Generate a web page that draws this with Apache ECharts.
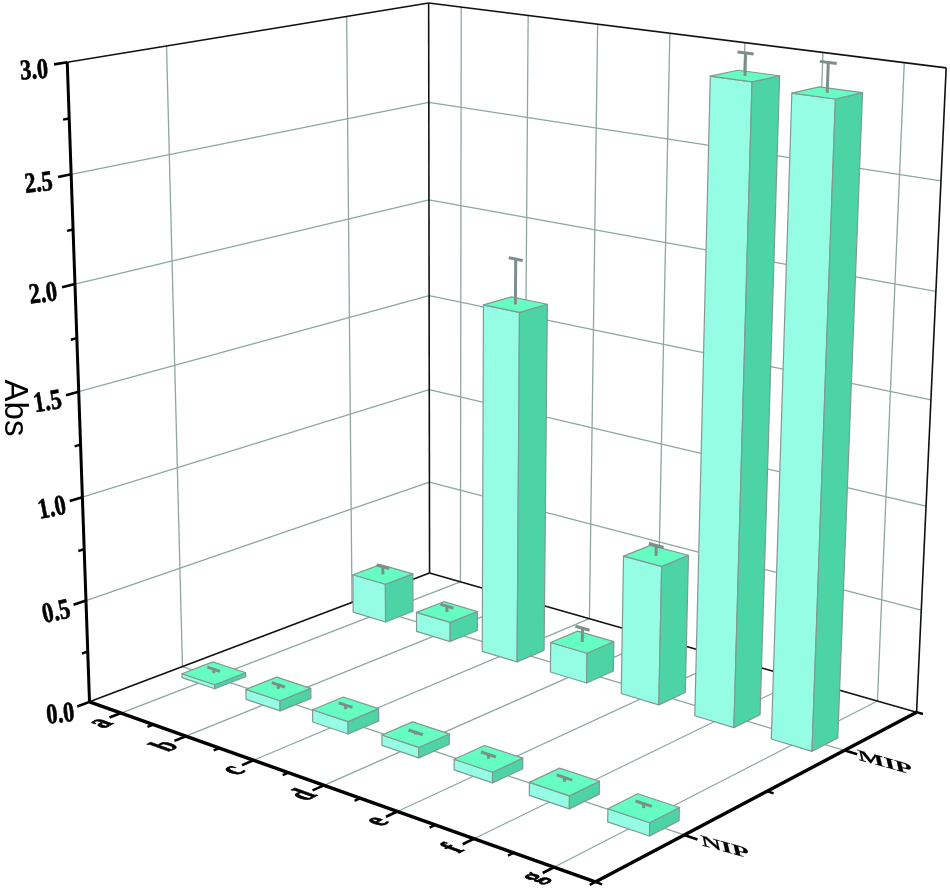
<!DOCTYPE html>
<html><head><meta charset="utf-8">
<script src="https://cdn.jsdelivr.net/npm/echarts@6/dist/echarts.min.js"></script>
<style>html,body{margin:0;background:#fff}#c{width:950px;height:890px}</style></head>
<body><div id="c"></div>
<script>
// ---- data ----
const categories = ['a','b','c','d','e','f','g'];
const rows = ['NIP','MIP'];
const nipValues = [0.02,0.05,0.06,0.05,0.05,0.06,0.06];
const mipValues = [0.20,0.10,1.74,0.15,0.68,2.97,2.945];
const nipErrors = [0.02,0.02,0.02,0.01,0.02,0.02,0.02];
const mipErrors = [0.04,0.03,0.22,0.07,0.05,0.10,0.13];
const valueTicks = [0,0.5,1,1.5,2,2.5,3];
const valueLabels = ['0.0','0.5','1.0','1.5','2.0','2.5','3.0'];
const yTitle = 'Abs';

// ---- view: camera calibration of the unit cube (u along categories, v along rows, w up) ----
const cubeCorners = [[0,0,0,90,702],[1,0,0,595,882],[1,1,0,917,712],[0,1,0,429,573],
                     [0,0,1,67,62],[0,1,1,429,3],[1,1,1,946,68]];
function solve(A,b){const n=b.length;const M=A.map((r,i)=>r.concat(b[i]));
  for(let i=0;i<n;i++){let p=i;for(let k=i+1;k<n;k++)if(Math.abs(M[k][i])>Math.abs(M[p][i]))p=k;
    [M[i],M[p]]=[M[p],M[i]];for(let k=0;k<n;k++){if(k===i)continue;const f=M[k][i]/M[i][i];
      for(let j=i;j<=n;j++)M[k][j]-=f*M[i][j];}}
  return M.map((r,i)=>r[n]/r[i]);}
const camera=(function(){const R=[],B=[];cubeCorners.forEach(c=>{const [X,Y,Z,x,y]=c;
    R.push([X,Y,Z,1,0,0,0,0,-x*X,-x*Y,-x*Z]);B.push(x);
    R.push([0,0,0,0,X,Y,Z,1,-y*X,-y*Y,-y*Z]);B.push(y);});
  const N=11,A=[],b=[];for(let i=0;i<N;i++){A.push([]);b.push(0);for(let j=0;j<N;j++){let s=0;R.forEach(r=>s+=r[i]*r[j]);A[i].push(s);}
    R.forEach((r,k)=>b[i]+=r[i]*B[k]);}
  return solve(A,b);})();
function project(u,v,w){const p=camera,d=p[8]*u+p[9]*v+p[10]*w+1;
  return [(p[0]*u+p[1]*v+p[2]*w+p[3])/d,(p[4]*u+p[5]*v+p[6]*w+p[7])/d];}

const W=950,H=890,nCat=categories.length,yMax=3;
// category position + value go through the hidden cartesian axes, then through the camera
function P(api,cat,v,val){const c=api.coord([cat,val]);return project(c[0]/W,v,1-c[1]/H);}
const rowV=r=>(r+0.5)/rows.length;
const gridC='#8fa6a3', edgeC='#7f9a92', errC='#7c8f8b';
const bw=0.258, bv=0.043, capHalf=0.1;
const line=(a,b,stroke,lineWidth)=>({type:'line',shape:{x1:a[0],y1:a[1],x2:b[0],y2:b[1]},style:{stroke,lineWidth,lineCap:'butt'},silent:true});
const poly=(pts,fill)=>({type:'polygon',shape:{points:pts},style:{fill,stroke:edgeC,lineWidth:1.2,lineJoin:'round'},silent:true});
const label=(t,p,rotDeg,font,sx,sy,skew,fat,skewY)=>({type:'text',x:p[0],y:p[1],rotation:rotDeg*Math.PI/180,scaleX:sx||1,scaleY:sy||1,skewX:skew||0,skewY:skewY||0,
  style:{text:t,x:0,y:0,align:'center',verticalAlign:'middle',font,fill:'#000',stroke:fat?'#000':null,lineWidth:fat||0},silent:true});

function frame(params,api){const ch=[];
  const p=(c,v,val)=>P(api,c,v,val);
  valueTicks.forEach(t=>{if(t===0||t===yMax)return;ch.push(line(p(0,0,t),p(0,1,t),gridC,1.3));ch.push(line(p(0,1,t),p(nCat,1,t),gridC,1.3));});
  categories.forEach((c,i)=>{const x=i+.5;ch.push(line(p(x,1,0),p(x,1,yMax),gridC,1.3));ch.push(line(p(x,0,0),p(x,1,0),gridC,1.3));});
  rows.forEach((r,i)=>{const v=rowV(i);ch.push(line(p(0,v,0),p(0,v,yMax),gridC,1.3));ch.push(line(p(0,v,0),p(nCat,v,0),gridC,1.3));});
  [[0,1,0,nCat,1,0],[0,0,0,0,1,0],[0,0,yMax,0,1,yMax],[0,1,yMax,nCat,1,yMax],[0,1,0,0,1,yMax],[nCat,1,0,nCat,1,yMax]].forEach(l=>
    ch.push(line(p(l[0],l[1],l[2]),p(l[3],l[4],l[5]),'#111',1.6)));
  return {type:'group',children:ch};}

function bar(params,api){
  const i=api.value(0),r=api.value(1),val=api.value(2),err=api.value(3);
  const x=i+.5,v=rowV(r);const q=(c,vv,t)=>P(api,c,vv,t);
  const x0=x-bw,x1=x+bw,v0=v-bv,v1=v+bv;
  const ch=[
    poly([q(x0,v0,0),q(x1,v0,0),q(x1,v0,val),q(x0,v0,val)],'#95FDE3'),
    poly([q(x1,v0,0),q(x1,v1,0),q(x1,v1,val),q(x1,v0,val)],'#4CD4A6'),
    poly([q(x0,v0,val),q(x1,v0,val),q(x1,v1,val),q(x0,v1,val)],'#66FDC2'),
    line(q(x,v,val),q(x,v,val+err),errC,3),
    line(q(x-capHalf,v,val+err),q(x+capHalf,v,val+err),errC,3)
  ];
  return {type:'group',children:ch};}

function axes(params,api){const ch=[];const p=(c,v,val)=>P(api,c,v,val);
  const serif='bold 22px "Liberation Serif"';
  ch.push(line(p(0,0,0),p(0,0,yMax),'#000',3));
  ch.push(line(p(0,0,0),p(nCat,0,0),'#000',3.4));
  ch.push(line(p(nCat,0,0),p(nCat,1,0),'#000',3.4));
  valueTicks.forEach((t,i)=>{ch.push(line(p(0,0,t),p(0,-.032,t),'#000',2.6));
    if(i<valueTicks.length-1){const m=(t+valueTicks[i+1])/2;ch.push(line(p(0,0,m),p(0,-.015,m),'#000',2.4));}
    const a=p(0,0,t),k=(yMax-t)/yMax,rot=t===0?6:4+k*10;
    ch.push(label(valueLabels[i],[a[0]-33+4*k,a[1]+9+4*k],rot,serif,1.02,1.3,0,0.5));});
  categories.forEach((c,i)=>{const x=i+.5;ch.push(line(p(x,0,0),p(x,-.03,0),'#000',2.6));
    const a=p(x,0,0);ch.push(label(c,[a[0]-20,a[1]+10],70,serif,0.8,1.5,0,0.7,-0.73));});
  for(let i=1;i<=nCat;i++){ch.push(line(p(i,0,0),p(i,-.015,0),'#000',2.4));}
  rows.forEach((r,i)=>{const v=rowV(i);ch.push(line(p(nCat,v,0),p(nCat+.16,v,0),'#000',2.6));
    const a=p(nCat,v,0);ch.push(label(r,[a[0]+41,a[1]+13],-15.4,'bold 20px "Liberation Serif"',1.45,0.72,0.5,0.2));});
  [0,.5,1].forEach(v=>ch.push(line(p(nCat,v,0),p(nCat+.08,v,0),'#000',2.4)));
  ch.push(label(yTitle,[14,408],-90,'33px "Liberation Sans"'));
  return {type:'group',children:ch};}

const barData=[];
[1,0].forEach(r=>categories.forEach((c,i)=>barData.push([i,r,(r?mipValues:nipValues)[i],(r?mipErrors:nipErrors)[i]])));

const chart=echarts.init(document.getElementById('c'),null,{renderer:'canvas'});
chart.setOption({
  animation:false,backgroundColor:'#fff',
  grid:{left:0,top:0,width:W,height:H,containLabel:false},
  xAxis:{type:'value',min:0,max:nCat,show:false},
  yAxis:{type:'value',min:0,max:yMax,show:false},
  tooltip:{show:false},
  series:[
    {type:'custom',name:'frame',coordinateSystem:'cartesian2d',clip:false,data:[[0,0]],renderItem:frame,z:1,silent:true},
    {type:'custom',name:'bars',coordinateSystem:'cartesian2d',clip:false,data:barData,encode:{x:0,y:2},renderItem:bar,z:2,silent:true},
    {type:'custom',name:'axes',coordinateSystem:'cartesian2d',clip:false,data:[[0,0]],renderItem:axes,z:3,silent:true}
  ]
});
</script></body></html>
